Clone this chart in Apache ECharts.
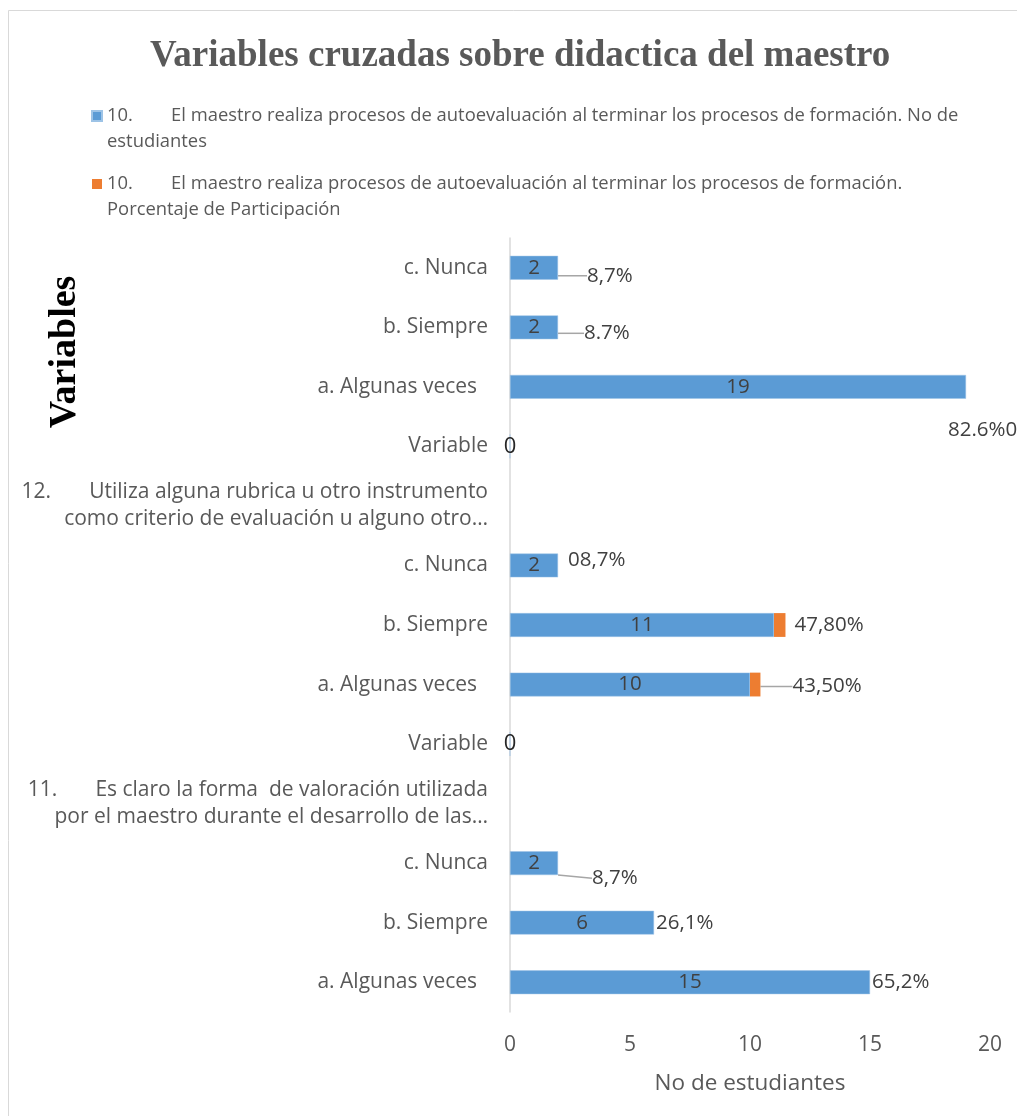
<!DOCTYPE html>
<html>
<head>
<meta charset="utf-8">
<script src="https://cdn.jsdelivr.net/npm/echarts@6/dist/echarts.min.js"></script>
<style>
  html, body { margin: 0; padding: 0; background: #fff; }
  #chart { width: 1017px; height: 1116px; }
</style>
</head>
<body>
<div id="chart"></div>
<script>
// categories listed bottom -> top (category axis starts at the bottom)
const categories = [
  'a. Algunas veces  ',
  'b. Siempre',
  'c. Nunca',
  '11.       Es claro la forma  de valoración utilizada\npor el maestro durante el desarrollo de las…',
  'Variable',
  'a. Algunas veces  ',
  'b. Siempre',
  'c. Nunca',
  '12.       Utiliza alguna rubrica u otro instrumento\ncomo criterio de evaluación u alguno otro…',
  'Variable',
  'a. Algunas veces  ',
  'b. Siempre',
  'c. Nunca'
];
const students = [15, 6, 2, null, 0, 10, 11, 2, null, 0, 19, 2, 2];
const percentage = [0, 0, 0, null, null, 0.435, 0.478, 0, null, null, 0, 0, 0];
const percentLabels = ['65,2%', '26,1%', '8,7%', '', '', '43,50%', '47,80%', '08,7%', '', '', '82.6%0', '8.7%', '8,7%'];
const xTicks = [0, 5, 10, 15, 20];

const seriesNames = [
  '10.        El maestro realiza procesos de autoevaluación al terminar los procesos de formación. No de estudiantes',
  '10.        El maestro realiza procesos de autoevaluación al terminar los procesos de formación. Porcentaje de Participación'
];
// leading blank line keeps the legend marker level with the first text line
const legendText = {};
legendText[seriesNames[0]] = '\n10.        El maestro realiza procesos de autoevaluación al terminar los procesos de formación. No de\nestudiantes';
legendText[seriesNames[1]] = '\n10.        El maestro realiza procesos de autoevaluación al terminar los procesos de formación.\nPorcentaje de Participación';

// label nudges (px) for the percentage labels, like the hand-moved labels in the original
const nudge = {
  0: [0, 0], 1: [0, 0], 2: [32, 15], 5: [30, 2], 6: [7, 0],
  7: [8, -5], 10: [-20, 43], 11: [24, 6], 12: [27, 8]
};
const withLine = [2, 5, 11, 12];

const chart = echarts.init(document.getElementById('chart'));
const font = '"Open Sans", "Noto Sans", sans-serif';

chart.setOption({
  animation: false,
  backgroundColor: '#fff',
  title: {
    text: 'Variables cruzadas sobre didactica del maestro',
    left: 145,
    top: 33,
    textStyle: { fontFamily: '"Liberation Serif", "Times New Roman", serif', fontWeight: 'bold', fontSize: 37, color: '#595959' }
  },
  legend: {
    orient: 'vertical',
    left: 86,
    top: 72,
    itemGap: -10,
    itemWidth: 10,
    itemHeight: 10,
    icon: 'rect',
    selectedMode: false,
    data: seriesNames,
    formatter: n => legendText[n],
    textStyle: { fontFamily: font, fontSize: 18.4, color: '#595959', lineHeight: 26 }
  },
  graphic: [
    { type: 'rect', shape: { x: 8.5, y: 10.5, width: 1100, height: 1200 }, style: { fill: null, stroke: '#d9d9d9', lineWidth: 1 }, silent: true },
    {
      type: 'text', x: 65, y: 352, rotation: Math.PI / 2,
      style: { text: 'Variables', fill: '#000', font: 'bold 38px "Liberation Serif", serif', align: 'center', verticalAlign: 'middle' }
    }
  ],
  grid: { left: 510, right: 27, top: 238, bottom: 104, containLabel: false },
  xAxis: {
    type: 'value',
    min: xTicks[0],
    max: xTicks[xTicks.length - 1],
    interval: 5,
    name: 'No de estudiantes',
    nameLocation: 'middle',
    nameGap: 60,
    nameTextStyle: { fontFamily: font, fontSize: 22.5, color: '#595959' },
    axisLine: { show: false },
    axisTick: { show: false },
    splitLine: { show: false },
    axisLabel: { margin: 23, fontFamily: font, fontSize: 21, color: '#595959' }
  },
  yAxis: {
    type: 'category',
    data: categories,
    axisLine: { show: true, lineStyle: { color: '#d9d9d9', width: 1.5 } },
    axisTick: { show: false },
    axisLabel: { margin: 22, fontFamily: font, fontSize: 21, color: '#595959', lineHeight: 27 }
  },
  series: [
    {
      name: seriesNames[0],
      type: 'bar',
      stack: 'total',
      barWidth: '40%',
      data: students,
      itemStyle: { color: '#5B9BD5', borderColor: '#9dc3e6', borderWidth: 0.5 },
      label: {
        show: true,
        position: 'inside',
        fontFamily: font,
        fontSize: 20.5,
        color: '#404040',
        formatter: p => (p.value === 0 ? '{z|0}' : String(p.value)),
        rich: { z: { fontFamily: font, fontSize: 22, color: '#262626' } }
      }
    },
    {
      name: seriesNames[1],
      type: 'bar',
      stack: 'total',
      barWidth: '40%',
      data: percentage.map((v, i) => ({
        value: v,
        labelLine: { show: withLine.indexOf(i) >= 0 }
      })),
      itemStyle: { color: '#ED7D31' },
      label: {
        show: true,
        position: 'right',
        distance: 2,
        fontFamily: font,
        fontSize: 20.5,
        color: '#404040',
        formatter: p => percentLabels[p.dataIndex]
      },
      labelLine: { show: false, lineStyle: { color: '#a6a6a6', width: 1.5 } },
      labelLayout: p => {
        const d = nudge[p.dataIndex] || [0, 0];
        return { dx: d[0], dy: d[1] };
      }
    }
  ]
});
</script>
</body>
</html>
